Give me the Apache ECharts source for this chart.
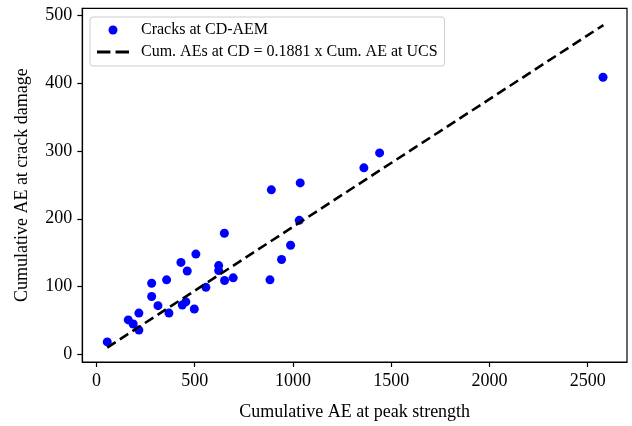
<!DOCTYPE html>
<html>
<head>
<meta charset="utf-8">
<script src="https://cdn.jsdelivr.net/npm/echarts@6/dist/echarts.min.js"></script>
<style>html,body{margin:0;padding:0;background:#fff}#c{width:632px;height:426px}</style>
</head>
<body>
<div id="c"></div>
<script>
// Scatter data: cumulative AE at peak strength (x) vs at crack damage (y)
const crackX = [55,162,187,216,216,281,281,313,357,369,430,462,437,455,506,498,557,622,622,651,652,696,890,1037,1032,988,942,883,1361,1441,2578];
const crackY = [18.6,51,45,36,61,85.5,105,72,110,61,135.7,123,73,77.6,148,67,99,131,123.6,178.6,109,113,242.6,252.8,197.7,161,140,110,275,297,408.5];
// Fit line end points
const fitX = [55, 2580];
const fitY = [10.3, 485.3];
// Tick labels
const xTicks = [0,500,1000,1500,2000,2500];
const yTicks = [0,100,200,300,400,500];
const seriesNames = ['Cracks at CD-AEM', 'Cum. AEs at CD = 0.1881 x Cum. AE at UCS'];

const FONT = 'Liberation Serif';
const chart = echarts.init(document.getElementById('c'), null, {renderer:'canvas'});
const axisCommon = {
  axisLine: {show:true, onZero:false, lineStyle:{color:'#000', width:1.2}},
  axisTick: {show:true, inside:false, length:5, lineStyle:{color:'#000', width:1.2}},
  splitLine: {show:false},
  nameTextStyle: {fontFamily:FONT, fontSize:18, color:'#000'}
};
const fmt = v => String(v);
chart.setOption({
  animation:false,
  backgroundColor:'#fff',
  grid:{left:82.3, right:5, top:8.3, bottom:62, show:true, borderColor:'#000', borderWidth:1.2, backgroundColor:'transparent'},
  xAxis:Object.assign({}, axisCommon, {
    type:'value', min:-72, max:2700,
    name:'Cumulative AE at peak strength', nameLocation:'middle', nameGap:41,
    axisTick:Object.assign({}, axisCommon.axisTick, {customValues:xTicks}),
    axisLabel:{customValues:xTicks, formatter:fmt, fontFamily:FONT, fontSize:18, color:'#000', margin:10}
  }),
  yAxis:Object.assign({}, axisCommon, {
    type:'value', min:-11, max:510,
    name:'Cumulative AE at crack damage', nameLocation:'middle', nameGap:51,
    axisTick:Object.assign({}, axisCommon.axisTick, {customValues:yTicks}),
    axisLabel:{customValues:yTicks, formatter:fmt, fontFamily:FONT, fontSize:18, color:'#000', margin:10}
  }),
  legend:{
    orient:'vertical', left:90, top:17,
    padding:[4,7,5,7],
    itemGap:4, itemWidth:32, itemHeight:9,
    borderColor:'#cccccc', borderWidth:1, borderRadius:3, backgroundColor:'#fff',
    textStyle:{fontFamily:FONT, fontSize:16, color:'#000', lineHeight:18, padding:[0,0,0,7]},
    data:[
      {name:seriesNames[0], icon:'circle', itemStyle:{color:'#0000ff'}},
      {name:seriesNames[1], icon:'path://M0,0h13v3h-13z M18,0h13v3h-13z', itemStyle:{color:'#000'}}
    ]
  },
  series:[
    {name:seriesNames[0], type:'scatter', symbol:'circle', symbolSize:9,
     itemStyle:{color:'#0000ff', opacity:1}, z:2,
     data:crackX.map((x,i)=>[x, crackY[i]])},
    {name:seriesNames[1], type:'line', symbol:'none', z:3,
     lineStyle:{color:'#000', width:2.6, type:[10,5]},
     data:fitX.map((x,i)=>[x, fitY[i]])}
  ]
});
</script>
</body>
</html>
